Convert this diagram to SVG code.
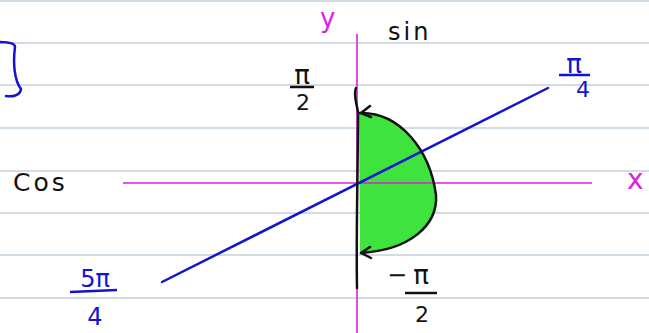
<svg xmlns="http://www.w3.org/2000/svg" width="649" height="333" viewBox="0 0 649 333">
<style>
.rule{stroke:#c3d0dc;stroke-width:1.5}
.ax{stroke:#e01ee0;stroke-width:1.6;fill:none}
.blk{stroke:#111;stroke-width:2.5;fill:none;stroke-linecap:round;stroke-linejoin:round}
.blu{stroke:#1414d0;stroke-width:2.5;fill:none;stroke-linecap:round}
.t{font-family:"DejaVu Sans",sans-serif}
.tb{fill:#111}
.tu{fill:#1414d0}
</style>
<rect width="649" height="333" fill="#fff"/>
<g id="paper">
<line class="rule" x1="0" y1="1" x2="649" y2="1"/>
<line class="rule" x1="0" y1="43" x2="649" y2="43"/>
<line class="rule" x1="0" y1="85" x2="649" y2="85"/>
<line class="rule" x1="0" y1="128" x2="649" y2="128"/>
<line class="rule" x1="0" y1="171" x2="649" y2="171"/>
<line class="rule" x1="0" y1="213" x2="649" y2="213"/>
<line class="rule" x1="0" y1="255" x2="649" y2="255"/>
<line class="rule" x1="0" y1="298" x2="649" y2="298"/>
</g>
<g id="region">
<path d="M359 113 C 400 112, 430 150, 436 195 C 438 225, 410 250, 360 253 Z" fill="#3ee33e"/>
</g>
<g id="axes">
<line class="ax" x1="123" y1="183" x2="592" y2="183"/>
<line class="ax" x1="357" y1="34" x2="357" y2="333"/>
</g>
<g id="connectors">
<path class="blu" d="M162 282 L548 88"/>
<path class="blk" d="M356 88 C 353 95, 357 105, 358 112 C 358 170, 356 230, 357 288"/>
<path class="blk" d="M360 113 C 400 112, 430 150, 436 195 C 438 225, 410 250, 361 253"/>
<path class="blk" d="M370 106 L361 113 L371 117"/>
<path class="blk" d="M370 247 L361 253 L371 258"/>
</g>
<g id="labels">
<text class="t" x="320" y="27" font-size="26" fill="#e01ee0">y</text>
<text class="t tb" x="388" y="40" font-size="24" letter-spacing="3">sin</text>
<text class="t tb" x="13" y="191" font-size="25" letter-spacing="3">Cos</text>
<text class="t" x="627" y="189" font-size="28" fill="#e01ee0">x</text>
<text class="t tb" x="302" y="84" font-size="26" text-anchor="middle">π</text>
<line x1="290" y1="87" x2="314" y2="87" stroke="#111" stroke-width="2.5"/>
<text class="t tb" x="303" y="110" font-size="22" text-anchor="middle">2</text>
<text class="t tu" x="574" y="73" font-size="26" text-anchor="middle">π</text>
<line x1="559" y1="75" x2="590" y2="75" stroke="#1414d0" stroke-width="2.5"/>
<text class="t tu" x="583" y="97" font-size="22" text-anchor="middle">4</text>
<text class="t tu" x="95" y="287" font-size="24" text-anchor="middle">5π</text>
<line x1="70" y1="292" x2="117" y2="290" stroke="#1414d0" stroke-width="2.5"/>
<text class="t tu" x="95" y="325" font-size="24" text-anchor="middle">4</text>
<text class="t tb" x="397" y="283" font-size="24" text-anchor="middle">−</text>
<text class="t tb" x="421" y="284" font-size="26" text-anchor="middle">π</text>
<line x1="405" y1="293" x2="437" y2="293" stroke="#111" stroke-width="2.5"/>
<text class="t tb" x="422" y="322" font-size="22" text-anchor="middle">2</text>
<path class="blu" d="M0 42 C 8 42, 15 43, 15 47 C 13 62, 14 80, 21 89 C 20 96, 12 97, 6 96"/>
</g>
</svg>
